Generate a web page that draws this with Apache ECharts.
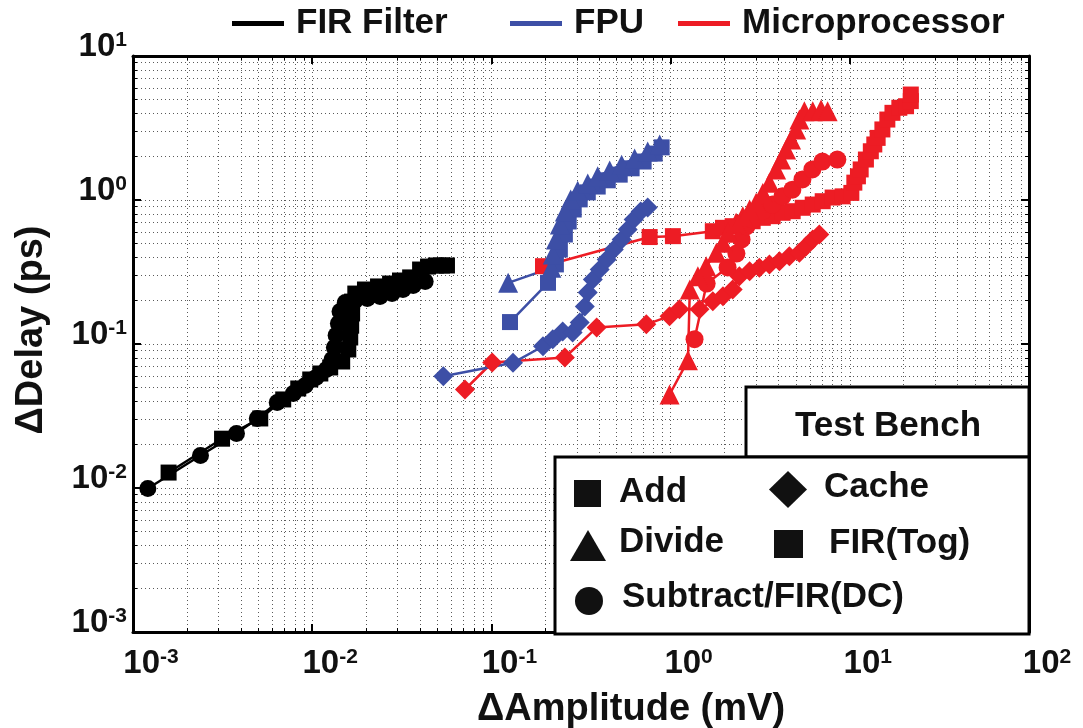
<!DOCTYPE html>
<html><head><meta charset="utf-8">
<script src="https://cdn.jsdelivr.net/npm/echarts@6/dist/echarts.min.js"></script>
<style>html,body{margin:0;padding:0;background:#fff}#c{width:1083px;height:728px}</style>
</head><body><div id="c"></div>
<script>
// ---- tick decades (exponents) ----
const xDecades = [-3, -2, -1, 0, 1, 2];
const yDecades = [-3, -2, -1, 0, 1];

// ---- FIR Filter (black) ----
const firTogX = [0.00158,0.00314,0.00513,0.00689,0.00836,0.00975,0.0111,0.0126,0.0147,0.0159,0.0163,0.0165,0.0167,0.0167,0.0174,0.0197,0.0233,0.0272,0.0309,0.0352,0.0400,0.0443,0.0490,0.0530,0.0565];
const firTogY = [0.0128,0.0220,0.0304,0.0412,0.0491,0.0567,0.0624,0.0687,0.0756,0.0916,0.111,0.134,0.163,0.197,0.224,0.239,0.251,0.263,0.276,0.290,0.329,0.345,0.351,0.351,0.351];
const firDcX = [0.00121,0.00238,0.00378,0.00494,0.00638,0.00784,0.00914,0.0105,0.0120,0.0129,0.0133,0.0136,0.0140,0.0143,0.0153,0.0174,0.0203,0.0239,0.0279,0.0321,0.0366,0.0427];
const firDcY = [0.00993,0.0168,0.0239,0.0304,0.0393,0.0453,0.0515,0.0585,0.0665,0.0780,0.0946,0.115,0.139,0.168,0.194,0.201,0.207,0.214,0.224,0.239,0.255,0.272];

// ---- FPU (blue) ----
const fpuAddX = [0.127,0.207,0.229,0.241,0.257,0.270,0.288,0.311,0.345,0.392,0.446,0.520,0.606,0.707,0.815,0.891];
const fpuAddY = [0.142,0.266,0.357,0.453,0.576,0.709,0.859,1.01,1.13,1.24,1.37,1.50,1.66,1.85,2.10,2.32];
const fpuDivX = [0.124,0.216,0.220,0.229,0.241,0.257,0.277,0.303,0.345,0.392,0.457,0.533,0.630,0.745,0.869];
const fpuDivY = [0.266,0.338,0.418,0.532,0.676,0.832,1.01,1.16,1.30,1.46,1.60,1.76,1.94,2.17,2.43];
const fpuSubX = [0.0539,0.132,0.194,0.220,0.250,0.284,0.311,0.332,0.345,0.368,0.402,0.440,0.482,0.533,0.576,0.622,0.681,0.745];
const fpuSubY = [0.0598,0.0740,0.0965,0.108,0.122,0.120,0.141,0.182,0.228,0.281,0.329,0.386,0.453,0.532,0.624,0.732,0.832,0.887];

// ---- Microprocessor (red) ----
const mpAddX = [0.194,0.764,1.03,1.72,1.96,2.22,2.53,2.87,3.27,3.71,4.22,4.80,5.46,6.21,7.06,8.02,9.12,10.2,10.6,11.1,11.5,12.3,13.1,13.7,14.3,15.2,16.2,17.3,18.9,20.6,21.9,21.9];
const mpAddY = [0.347,0.553,0.561,0.607,0.641,0.658,0.695,0.712,0.752,0.772,0.815,0.836,0.883,0.930,0.981,1.04,1.06,1.12,1.32,1.46,1.63,1.91,2.18,2.43,2.70,3.09,3.62,4.03,4.37,4.48,4.86,5.40];
const mpDivX = [0.987,1.25,1.28,1.42,1.58,1.80,1.96,2.09,2.32,2.53,2.76,3.00,3.27,3.56,3.88,4.14,4.41,4.70,5.02,5.23,5.58,6.21,6.91,7.52];
const mpDivY = [0.0446,0.0770,0.239,0.296,0.347,0.430,0.504,0.592,0.695,0.772,0.859,0.956,1.12,1.32,1.63,1.91,2.24,2.63,3.09,3.62,4.14,4.14,4.25,4.14];
const mpSubX = [1.36,1.59,2.08,2.33,2.49,2.65,2.86,3.25,3.70,4.21,4.78,5.44,6.18,7.03,8.52];
const mpSubY = [0.108,0.263,0.340,0.425,0.532,0.655,0.732,0.832,0.930,1.06,1.18,1.39,1.63,1.85,1.91];
const mpCacheX = [0.0712,0.101,0.257,0.387,0.732,0.987,1.12,1.45,1.72,1.96,2.22,2.42,2.76,3.13,3.56,4.05,4.60,5.23,5.70,6.21,6.76];
const mpCacheY = [0.0483,0.0744,0.0806,0.130,0.137,0.156,0.174,0.174,0.198,0.215,0.239,0.296,0.320,0.338,0.357,0.376,0.407,0.430,0.478,0.532,0.576];

const FONT = 'Liberation Sans, Arial, sans-serif';
const BLACK = '#000000', BLUE = '#3d4fa6', RED = '#ed1c24';

function pairs(xs, ys) { return xs.map((x, i) => [x, ys[i]]); }
function mk(name, color, symbol, size, xs, ys) {
  return {
    name: name, type: 'line', data: pairs(xs, ys),
    symbol: symbol, symbolSize: size, showAllSymbol: true,
    lineStyle: { color: color, width: 2.5 }, itemStyle: { color: color },
    emphasis: { disabled: true }, silent: true
  };
}
function legendOnly(name, color) {
  return { name: name, type: 'line', data: [], itemStyle: { color: color }, lineStyle: { color: color } };
}
function supLabel(v) {
  let e = Math.round(Math.log10(v));
  if (Object.is(e, -0)) e = 0;
  return '{b|10}{s|' + e + '}';
}
const rich = {
  b: { fontSize: 33, fontWeight: 'bold', fontFamily: FONT, color: '#111', lineHeight: 34 },
  s: { fontSize: 21, fontWeight: 'bold', fontFamily: FONT, color: '#111', verticalAlign: 'top', lineHeight: 22 }
};
const grid = { left: 133, right: 54, top: 56, bottom: 96, containLabel: false, outerBoundsMode: 'none' };
const gridLine = { color: '#5a5a5a', type: [1, 3], width: 1 };

function axisCommon(min, max) {
  return {
    type: 'log', logBase: 10, min: min, max: max,
    axisLine: { show: true, onZero: false, lineStyle: { color: '#000', width: 3 } },
    axisTick: { show: true, inside: true, length: 8, lineStyle: { color: '#000', width: 2 } },
    minorTick: { show: true, splitNumber: 9, length: 4, lineStyle: { color: '#000', width: 1 } }
  };
}
const xMin = Math.pow(10, xDecades[0]), xMax = Math.pow(10, xDecades[xDecades.length - 1]);
const yMin = Math.pow(10, yDecades[0]), yMax = Math.pow(10, yDecades[yDecades.length - 1]);

const legendText = { fontSize: 35, fontWeight: 'bold', fontFamily: FONT, color: '#111', padding: [0, 0, 0, 7] };
function legendAt(name, left) {
  return { data: [{ name: name, icon: 'rect' }], left: left, top: 6, padding: 0, itemWidth: 52, itemHeight: 5,
    selectedMode: false, textStyle: legendText };
}
const TXT = 'bold 35px ' + FONT;

const option = {
  animation: false,
  backgroundColor: '#fff',
  grid: grid,
  legend: [legendAt('FIR Filter', 232), legendAt('FPU', 510), legendAt('Microprocessor', 678)],
  xAxis: [
    Object.assign(axisCommon(xMin, xMax), {
      position: 'bottom',
      splitLine: { show: true, lineStyle: gridLine },
      minorSplitLine: { show: true, lineStyle: gridLine },
      axisLabel: { formatter: supLabel, margin: 15, padding: [0, 0, 0, 36], rich: rich },
      name: 'ΔAmplitude (mV)', nameLocation: 'middle', nameGap: 59,
      nameTextStyle: { fontSize: 38, fontWeight: 'bold', fontFamily: FONT, color: '#111', padding: [0, 0, 0, 100] }
    }),
    Object.assign(axisCommon(xMin, xMax), { position: 'top', axisLabel: { show: false }, splitLine: { show: false } })
  ],
  yAxis: [
    Object.assign(axisCommon(yMin, yMax), {
      position: 'left',
      splitLine: { show: true, lineStyle: gridLine },
      minorSplitLine: { show: true, lineStyle: gridLine },
      axisLabel: { formatter: supLabel, margin: 6, padding: [0, 0, 18, 0], rich: rich },
      name: 'ΔDelay (ps)', nameLocation: 'middle', nameGap: 82, nameRotate: 90,
      nameTextStyle: { fontSize: 38, fontWeight: 'bold', fontFamily: FONT, color: '#111', padding: [0, 0, 0, 28] }
    }),
    Object.assign(axisCommon(yMin, yMax), { position: 'right', axisLabel: { show: false }, splitLine: { show: false } })
  ],
  series: [
    legendOnly('FIR Filter', BLACK),
    legendOnly('FPU', BLUE),
    legendOnly('Microprocessor', RED),
    mk('FIR(Tog)', BLACK, 'rect', 16, firTogX, firTogY),
    mk('FIR(DC)', BLACK, 'circle', 17, firDcX, firDcY),
    mk('Micro Cache', RED, 'diamond', 20, mpCacheX, mpCacheY),
    mk('Micro Add', RED, 'rect', 16, mpAddX, mpAddY),
    mk('Micro Subtract', RED, 'circle', 18, mpSubX, mpSubY),
    mk('Micro Divide', RED, 'triangle', 20, mpDivX, mpDivY),
    mk('FPU Subtract', BLUE, 'diamond', 20, fpuSubX, fpuSubY),
    mk('FPU Add', BLUE, 'rect', 16, fpuAddX, fpuAddY),
    mk('FPU Divide', BLUE, 'triangle', 20, fpuDivX, fpuDivY)
  ],
  graphic: [
    { type: 'rect', z: 100, shape: { x: 746, y: 387, width: 283, height: 70 }, style: { fill: '#fff', stroke: '#000', lineWidth: 3 } },
    { type: 'text', z: 101, x: 888, y: 426, style: { text: 'Test Bench', font: TXT, fill: '#111', align: 'center', verticalAlign: 'middle' } },
    { type: 'rect', z: 100, shape: { x: 555, y: 457, width: 474, height: 177 }, style: { fill: '#fff', stroke: '#000', lineWidth: 3 } },
    { type: 'rect', z: 101, shape: { x: 574, y: 480, width: 27, height: 27 }, style: { fill: '#111' } },
    { type: 'text', z: 101, x: 619, y: 492, style: { text: 'Add', font: TXT, fill: '#111', align: 'left', verticalAlign: 'middle' } },
    { type: 'polygon', z: 101, shape: { points: [[769, 489.5], [788, 471], [807, 489.5], [788, 508]] }, style: { fill: '#111' } },
    { type: 'text', z: 101, x: 824, y: 487, style: { text: 'Cache', font: TXT, fill: '#111', align: 'left', verticalAlign: 'middle' } },
    { type: 'polygon', z: 101, shape: { points: [[570, 561], [588, 530], [606, 561]] }, style: { fill: '#111' } },
    { type: 'text', z: 101, x: 619, y: 542, style: { text: 'Divide', font: TXT, fill: '#111', align: 'left', verticalAlign: 'middle' } },
    { type: 'rect', z: 101, shape: { x: 774, y: 530, width: 29, height: 28 }, style: { fill: '#111' } },
    { type: 'text', z: 101, x: 829, y: 543, style: { text: 'FIR(Tog)', font: TXT, fill: '#111', align: 'left', verticalAlign: 'middle' } },
    { type: 'circle', z: 101, shape: { cx: 589, cy: 601, r: 14 }, style: { fill: '#111' } },
    { type: 'text', z: 101, x: 622, y: 597, style: { text: 'Subtract/FIR(DC)', font: TXT, fill: '#111', align: 'left', verticalAlign: 'middle' } }
  ]
};
const chart = echarts.init(document.getElementById('c'), null, { renderer: 'canvas' });
chart.setOption(option);
</script></body></html>
